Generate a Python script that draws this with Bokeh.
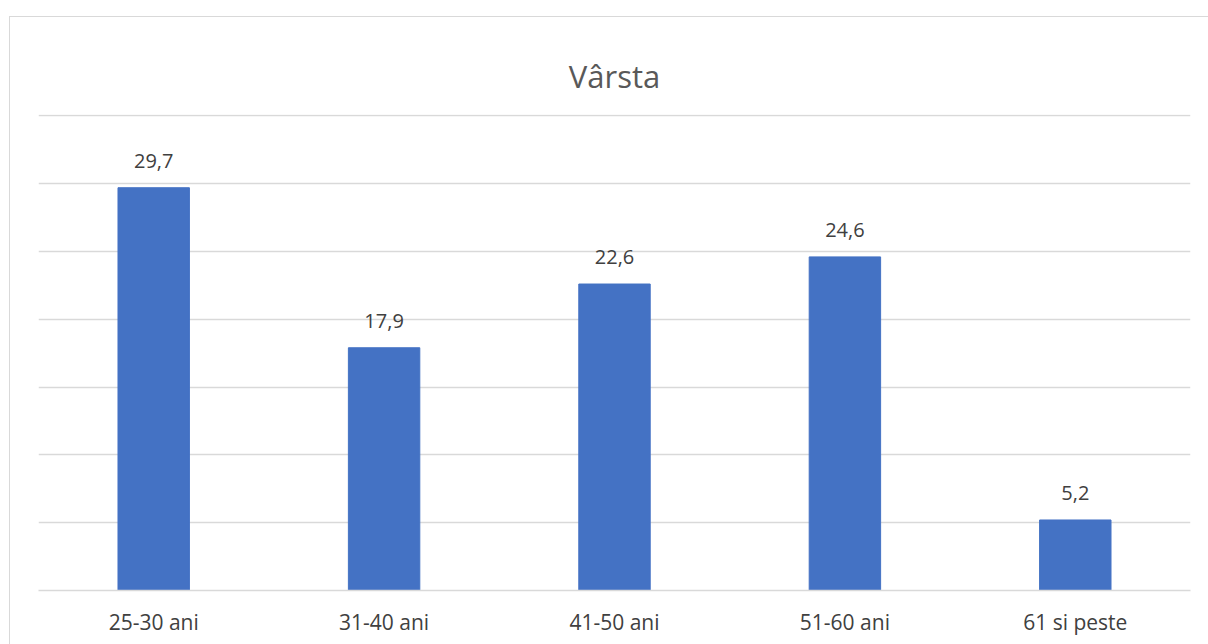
from bokeh.plotting import figure
from bokeh.models import ColumnDataSource, Range1d, FixedTicker, Title
from bokeh.core.properties import value
from bokeh.embed import file_html
from bokeh.resources import INLINE

categories = ["25-30 ani", "31-40 ani", "41-50 ani", "51-60 ani", "61 si peste"]
values = [29.7, 17.9, 22.6, 24.6, 5.2]
labels = ["29,7", "17,9", "22,6", "24,6", "5,2"]
y_ticks = [0, 5, 10, 15, 20, 25, 30, 35]

FONT = "Open Sans"

src = ColumnDataSource(dict(cat=categories, val=values, lab=labels))

p = figure(x_range=categories, y_range=Range1d(0, 35.1), width=1199, height=628,
           output_backend="svg", toolbar_location=None,
           min_border_left=28, min_border_right=19, min_border_top=97, min_border_bottom=55)
p.styles = {"border-left": "1px solid #d9d9d9", "border-top": "1px solid #d9d9d9",
            "margin-left": "9px", "margin-top": "16px"}

p.title = Title(text="Vârsta", align="center", text_font_size="31px", text_font=FONT,
                text_color="#595959", text_font_style="normal", standoff=36)

p.vbar(x="cat", top="val", width=0.31, source=src, color="#4472C4")
p.text(x="cat", y="val", text="lab", source=src, text_align="center", text_baseline="bottom",
       y_offset=-20, text_font=value(FONT), text_font_size="20px", text_color="#404040")

p.outline_line_color = None
p.yaxis.visible = False
p.ygrid.ticker = FixedTicker(ticks=y_ticks)
p.ygrid.grid_line_color = "#d9d9d9"
p.ygrid.grid_line_width = 1.3
p.xgrid.grid_line_color = None
p.xaxis.axis_line_color = "#d9d9d9"
p.xaxis.axis_line_width = 1.3
p.xaxis.major_tick_line_color = None
p.xaxis.minor_tick_line_color = None
p.xaxis.major_label_text_font = FONT
p.xaxis.major_label_text_font_size = "21px"
p.xaxis.major_label_text_color = "#404040"
p.xaxis.major_label_standoff = 11
p.x_range.range_padding = 0

open("out.html", "w").write(file_html(p, INLINE))
